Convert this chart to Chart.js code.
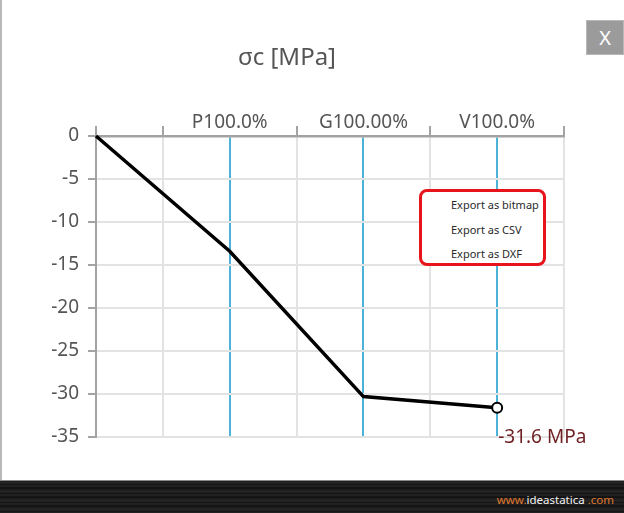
<!DOCTYPE html>
<html>
<head>
<meta charset="utf-8">
<script src="https://cdn.jsdelivr.net/npm/chart.js@4.4.1/dist/chart.umd.min.js"></script>
<style>
  html, body { margin: 0; padding: 0; background: #fff; }
  #wrap { position: relative; width: 624px; height: 513px; overflow: hidden; background: #fff; font-family: "Noto Sans", "Open Sans", sans-serif; }
  #chartBox { position: absolute; left: 0; top: 0; width: 624px; height: 480px; }
  #leftEdge { position: absolute; left: 0; top: 0; width: 2px; height: 480px; background: #b8b8b8; }
  #title { position: absolute; left: 287px; top: 55px; transform: translate(-50%, -50%); font-size: 24px; color: #555; white-space: nowrap; }
  #closeBtn { position: absolute; left: 586px; top: 20px; width: 38px; height: 35px; box-sizing: border-box; background: #9b9b9b; border: 1px solid #b8b8b8; color: #fff; font-size: 20px; line-height: 33px; text-align: center; }
  #menu { position: absolute; left: 419px; top: 189px; width: 127px; height: 77px; box-sizing: border-box; border: 3px solid #e8141c; border-radius: 8px; background: #fff; }
  #menu div { position: absolute; left: 29px; font-size: 11px; color: #2a2a2a; white-space: nowrap; transform: translateY(-50%); }
  #band { position: absolute; left: 0; top: 480px; width: 624px; height: 33px; border-top: 1px solid #8a8a8a; box-sizing: border-box;
    background: repeating-linear-gradient(180deg, #1a1a1a 0px, #2c2c2c 2px, #111 3px, #262626 5px, #0e0e0e 7px, #222 9px); }
  #brand { position: absolute; right: 10px; top: 499px; transform: translateY(-50%); font-size: 11.5px; white-space: nowrap; }
  #brand .o { color: #e0782e; }
  #brand .w { color: #f2f2f2; }
</style>
</head>
<body>
<div id="wrap">
  <div id="chartBox"><canvas id="c" width="624" height="480"></canvas></div>
  <div id="leftEdge"></div>
  <div id="title">σc [MPa]</div>
  <div id="closeBtn">X</div>
  <div id="menu">
    <div style="top:12px">Export as bitmap</div>
    <div style="top:37px">Export as CSV</div>
    <div style="top:61px">Export as DXF</div>
  </div>
  <div id="band"></div>
  <div id="brand"><span class="o">www.</span><span class="w">ideastatica</span><span class="o"> .com</span></div>
</div>
<script>
// ---- data ----
const stagePositions = [0, 1, 2, 3];
const stressValues = [0, -13.4, -30.3, -31.6];
const stageLabels = ['P100.0%', 'G100.00%', 'V100.0%'];
const xGridValues = [0, 0.5, 1, 1.5, 2, 2.5, 3, 3.5];
const yMin = -35, yMax = 0, yStep = 5;
const unitText = 'MPa';

const BLUE = '#4cb2d8';
const GRID = '#e3e3e3';
const AXIS = '#a3a3a3';
const FONT = '"Noto Sans", "Open Sans", sans-serif';

const isStage = v => Number.isInteger(v) && v > 0;

const endLabel = {
  id: 'endLabel',
  afterDatasetsDraw(chart) {
    const meta = chart.getDatasetMeta(0);
    const last = meta.data[meta.data.length - 1];
    const ctx = chart.ctx;
    ctx.save();
    ctx.font = '19px ' + FONT;
    ctx.fillStyle = '#6e1f22';
    ctx.textAlign = 'left';
    ctx.textBaseline = 'middle';
    ctx.fillText(stressValues[stressValues.length - 1].toFixed(1) + ' ' + unitText, last.x + 1, chart.chartArea.bottom + 1);
    ctx.restore();
  }
};

new Chart(document.getElementById('c'), {
  type: 'line',
  data: {
    datasets: [{
      data: stagePositions.map((x, i) => ({ x: x, y: stressValues[i] })),
      borderColor: '#000',
      borderWidth: 3.5,
      tension: 0,
      fill: false,
      pointRadius: stressValues.map((v, i) => i === stressValues.length - 1 ? 5 : 0),
      pointBackgroundColor: '#fff',
      pointBorderColor: '#000',
      pointBorderWidth: 2,
      clip: false
    }]
  },
  options: {
    responsive: false,
    animation: false,
    layout: { padding: { left: 0, top: 0, right: 60, bottom: 43 } },
    plugins: { legend: { display: false }, tooltip: { enabled: false }, title: { display: false } },
    scales: {
      x: {
        type: 'linear',
        position: 'top',
        min: 0,
        max: 3.5,
        afterBuildTicks: s => { s.ticks = xGridValues.map(v => ({ value: v })); },
        afterFit: s => { s.height = 136; },
        ticks: {
          autoSkip: false,
          maxRotation: 0,
          padding: -8,
          color: '#555',
          font: { family: FONT, size: 19 },
          callback: v => isStage(v) ? stageLabels[v - 1] : ''
        },
        grid: {
          color: c => c.tick && isStage(c.tick.value) ? BLUE : (c.tick && c.tick.value === 0 ? 'rgba(0,0,0,0)' : GRID),
          lineWidth: 2,
          tickLength: 10,
          tickWidth: 2,
          tickColor: c => c.tick && isStage(c.tick.value) ? 'rgba(0,0,0,0)' : AXIS
        },
        border: { color: AXIS, width: 2.5 }
      },
      y: {
        min: yMin,
        max: yMax,
        afterFit: s => { s.width = 96; },
        ticks: {
          stepSize: yStep,
          padding: 9,
          color: '#555',
          font: { family: FONT, size: 19 }
        },
        grid: {
          color: c => c.tick && c.tick.value === 0 ? 'rgba(0,0,0,0)' : GRID,
          lineWidth: 2,
          tickLength: 8,
          tickWidth: 2,
          tickColor: AXIS
        },
        border: { color: AXIS, width: 2 }
      }
    }
  },
  plugins: [endLabel]
});
</script>
</body>
</html>
